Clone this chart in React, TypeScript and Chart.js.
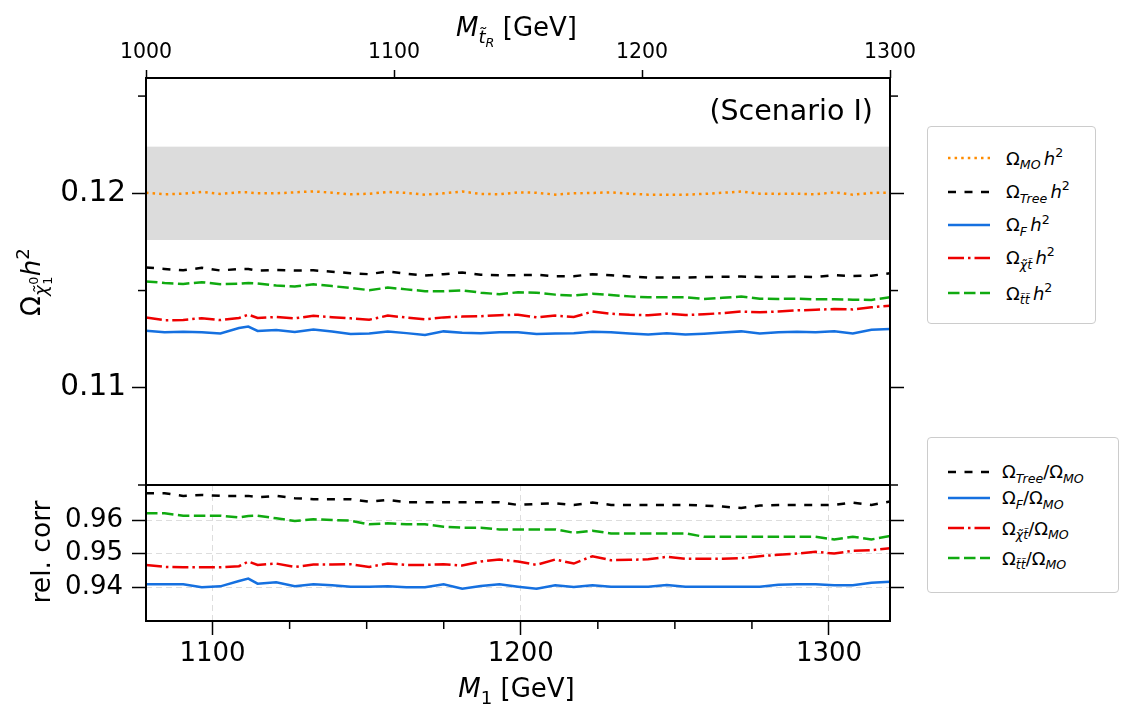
import React, { useEffect, useRef } from "react";
import { Chart, registerables } from "chart.js";

Chart.register(...registerables);

// Scan points in the right-handed stop mass M_tR [GeV]; the bottom axis shows the matching M1.
const stopMass = [1000, 1007.5, 1015, 1022.5, 1030, 1037.5, 1041.25, 1045, 1052.5, 1060, 1067.5, 1075, 1082.5, 1090, 1097.5, 1105, 1112.5, 1120, 1127.5, 1135, 1142.5, 1150, 1157.5, 1165, 1172.5, 1180, 1187.5, 1195, 1202.5, 1210, 1217.5, 1225, 1232.5, 1240, 1247.5, 1255, 1262.5, 1270, 1277.5, 1285, 1292.5, 1300];

// Relic density Omega h^2
const omegaMO = [0.12003, 0.11995, 0.11998, 0.12007, 0.11997, 0.12005, 0.12005, 0.12, 0.12, 0.12005, 0.1201, 0.12003, 0.11995, 0.11998, 0.12007, 0.12002, 0.11993, 0.12, 0.12009, 0.11997, 0.11995, 0.12005, 0.12003, 0.11993, 0.12, 0.12002, 0.12005, 0.11998, 0.11993, 0.11993, 0.11993, 0.11997, 0.12003, 0.12009, 0.11998, 0.11997, 0.11998, 0.11995, 0.12005, 0.11993, 0.12002, 0.12003];
const omegaTree = [0.11619, 0.11611, 0.11604, 0.11617, 0.11603, 0.11611, 0.11611, 0.11602, 0.11606, 0.11603, 0.11604, 0.11597, 0.11589, 0.11584, 0.11599, 0.11586, 0.11577, 0.11584, 0.11593, 0.11581, 0.11579, 0.11579, 0.11581, 0.11573, 0.11574, 0.11584, 0.11579, 0.11572, 0.11567, 0.11567, 0.11567, 0.11569, 0.11571, 0.11572, 0.1157, 0.11571, 0.11572, 0.11569, 0.11579, 0.11575, 0.11576, 0.11589];
const omegaF = [0.11293, 0.11285, 0.11288, 0.11286, 0.11279, 0.11307, 0.11315, 0.11292, 0.11297, 0.11287, 0.113, 0.11289, 0.11276, 0.11279, 0.11289, 0.11281, 0.11272, 0.1129, 0.11283, 0.11281, 0.11285, 0.11286, 0.11277, 0.11279, 0.1128, 0.11288, 0.11286, 0.11279, 0.11274, 0.1128, 0.11274, 0.11278, 0.11284, 0.1129, 0.11279, 0.11285, 0.11288, 0.11285, 0.11291, 0.11279, 0.11298, 0.11302];
const omegaChiT = [0.11362, 0.11347, 0.11349, 0.11358, 0.11348, 0.11359, 0.11376, 0.11359, 0.11364, 0.11357, 0.1137, 0.11363, 0.11357, 0.1135, 0.11371, 0.11361, 0.11352, 0.11362, 0.11366, 0.11368, 0.11373, 0.11376, 0.11362, 0.11371, 0.11364, 0.11392, 0.11381, 0.11375, 0.11373, 0.11381, 0.11374, 0.11378, 0.11384, 0.11392, 0.11388, 0.11392, 0.11398, 0.11401, 0.11405, 0.11403, 0.11414, 0.11422];
const omegaTT = [0.11547, 0.11539, 0.11534, 0.11543, 0.11533, 0.11535, 0.11539, 0.11536, 0.11526, 0.11521, 0.11532, 0.11523, 0.11513, 0.11502, 0.11515, 0.11506, 0.11497, 0.11496, 0.11501, 0.11489, 0.11481, 0.11491, 0.11489, 0.11479, 0.11474, 0.11484, 0.11477, 0.1147, 0.11465, 0.11465, 0.11465, 0.11457, 0.11463, 0.11469, 0.11458, 0.11457, 0.11458, 0.11455, 0.11455, 0.11453, 0.11452, 0.11465];

// Ratios to the micrOMEGAs result
const ratioTree = [0.968, 0.968, 0.9672, 0.9675, 0.9672, 0.9672, 0.9672, 0.9668, 0.9672, 0.9665, 0.9662, 0.9662, 0.9662, 0.9655, 0.966, 0.9653, 0.9653, 0.9653, 0.9653, 0.9653, 0.9653, 0.9645, 0.9648, 0.965, 0.9645, 0.9652, 0.9645, 0.9645, 0.9645, 0.9645, 0.9645, 0.9643, 0.964, 0.9636, 0.9643, 0.9645, 0.9645, 0.9645, 0.9645, 0.9652, 0.9645, 0.9655];
const ratioF = [0.9408, 0.9408, 0.9408, 0.9399, 0.9402, 0.9418, 0.9425, 0.941, 0.9414, 0.9402, 0.9408, 0.9405, 0.9401, 0.9401, 0.9402, 0.9399, 0.9399, 0.9408, 0.9395, 0.9403, 0.9408, 0.9401, 0.9395, 0.9405, 0.94, 0.9405, 0.9401, 0.9401, 0.9401, 0.9406, 0.9401, 0.9401, 0.9401, 0.9401, 0.9401, 0.9407, 0.9408, 0.9408, 0.9405, 0.9405, 0.9413, 0.9416];
const ratioChiT = [0.9466, 0.946, 0.9459, 0.9459, 0.9459, 0.9462, 0.9476, 0.9466, 0.947, 0.946, 0.9467, 0.9467, 0.9468, 0.946, 0.947, 0.9466, 0.9466, 0.9468, 0.9464, 0.9476, 0.9482, 0.9476, 0.9466, 0.9482, 0.947, 0.9492, 0.948, 0.9481, 0.9483, 0.949, 0.9484, 0.9484, 0.9484, 0.9486, 0.9492, 0.9496, 0.95, 0.9505, 0.95, 0.9508, 0.951, 0.9516];
const ratioTT = [0.962, 0.962, 0.9613, 0.9613, 0.9613, 0.9608, 0.9612, 0.9613, 0.9605, 0.9597, 0.9602, 0.96, 0.9598, 0.9587, 0.959, 0.9587, 0.9587, 0.958, 0.9577, 0.9577, 0.9572, 0.9572, 0.9572, 0.9572, 0.9562, 0.9568, 0.956, 0.956, 0.956, 0.956, 0.956, 0.955, 0.955, 0.955, 0.955, 0.955, 0.955, 0.955, 0.9542, 0.955, 0.9542, 0.9552];

// Axis ranges and tick positions
const stopRange = [1000, 1300];
const m1Range = [1078.4, 1319.8];
const stopTicks = [1000, 1100, 1200, 1300];
const m1Ticks = [1100, 1200, 1300];
const m1MinorTicks = [1125, 1150, 1175, 1225, 1250, 1275];
const omegaRange = [0.105, 0.12593];
const omegaTicks = [0.11, 0.12];
const omegaMinorTicks = [0.105, 0.115, 0.125];
const ratioRange = [0.92985, 0.97045];
const ratioTicks = [0.94, 0.95, 0.96];
const planckBand = [0.1176, 0.1224];

const FONT = "'DejaVu Sans', sans-serif";
const W = 1134;
const H = 720;

const STY = {
  mo: { color: "#ff8c00", dash: [2.5, 4.1] },
  tree: { color: "#000000", dash: [8, 8.5] },
  f: { color: "#1570e0", dash: [] as number[] },
  chiT: { color: "#ee0000", dash: [16, 4, 2.5, 4] },
  tt: { color: "#10aa10", dash: [11.5, 4.5] },
};

const series = (ys: number[]) => stopMass.map((x, i) => ({ x, y: ys[i] }));

const lineDs = (ys: number[], s: { color: string; dash: number[] }) => ({
  data: series(ys),
  borderColor: s.color,
  borderDash: s.dash,
  borderWidth: 2.5,
  pointRadius: 0,
  fill: false,
  tension: 0,
});

const setTicks = (values: number[]) => (scale: any) => {
  scale.ticks = values.map((value) => ({ value }));
};

type MinorSpec = { scaleId: string; values: number[]; side: "left" | "right" | "top" | "bottom"; len: number };

// Draws the shaded band, the minor tick marks and the panel frame
const panelDecor = (band: number[] | null, minor: MinorSpec[]) => ({
  id: "panelDecor",
  beforeDatasetsDraw(chart: any) {
    if (!band) return;
    const { ctx, chartArea: a, scales } = chart;
    const yTop = scales.y.getPixelForValue(band[1]);
    const yBot = scales.y.getPixelForValue(band[0]);
    ctx.save();
    ctx.fillStyle = "#dcdcdc";
    ctx.fillRect(a.left, yTop, a.right - a.left, yBot - yTop);
    ctx.restore();
  },
  afterDraw(chart: any) {
    const { ctx, chartArea: a, scales } = chart;
    ctx.save();
    ctx.strokeStyle = "#000";
    ctx.lineWidth = 1.5;
    for (const t of minor) {
      const s = scales[t.scaleId];
      for (const v of t.values) {
        const p = s.getPixelForValue(v);
        ctx.beginPath();
        if (t.side === "left") { ctx.moveTo(a.left - t.len, p); ctx.lineTo(a.left, p); }
        if (t.side === "right") { ctx.moveTo(a.right, p); ctx.lineTo(a.right + t.len, p); }
        if (t.side === "top") { ctx.moveTo(p, a.top - t.len); ctx.lineTo(p, a.top); }
        if (t.side === "bottom") { ctx.moveTo(p, a.bottom); ctx.lineTo(p, a.bottom + t.len); }
        ctx.stroke();
      }
    }
    ctx.lineWidth = 2;
    ctx.strokeRect(a.left, a.top, a.right - a.left, a.bottom - a.top);
    ctx.restore();
  },
});

const tickGrid = (len: number, onArea = false) => ({
  drawOnChartArea: onArea,
  drawTicks: true,
  tickLength: len,
  tickColor: "#000",
  tickWidth: 1.5,
  color: "#dddddd",
  lineWidth: 1,
});

const topConfig = (): any => ({
  type: "line",
  data: {
    datasets: [
      lineDs(omegaMO, STY.mo),
      lineDs(omegaTree, STY.tree),
      lineDs(omegaF, STY.f),
      lineDs(omegaChiT, STY.chiT),
      lineDs(omegaTT, STY.tt),
    ],
  },
  options: {
    animation: false,
    responsive: false,
    layout: { padding: { left: 0, right: 0, top: 0, bottom: H - 485 } },
    plugins: { legend: { display: false }, tooltip: { enabled: false } },
    scales: {
      x: {
        type: "linear",
        position: "top",
        min: stopRange[0],
        max: stopRange[1],
        afterBuildTicks: setTicks(stopTicks),
        afterFit: (s: any) => { s.height = 78; },
        ticks: { callback: (v: any) => String(v), font: { family: FONT, size: 20.5 }, color: "#000", padding: 5, maxRotation: 0, autoSkip: false },
        grid: tickGrid(8),
        border: { display: false },
      },
      y: {
        type: "linear",
        position: "left",
        min: omegaRange[0],
        max: omegaRange[1],
        afterBuildTicks: setTicks(omegaTicks),
        afterFit: (s: any) => { s.width = 146; },
        ticks: { callback: (v: any) => Number(v).toFixed(2), font: { family: FONT, size: 29.5 }, color: "#000", padding: 6 },
        grid: tickGrid(14),
        border: { display: false },
      },
      yR: {
        type: "linear",
        position: "right",
        min: omegaRange[0],
        max: omegaRange[1],
        afterBuildTicks: setTicks(omegaTicks),
        afterFit: (s: any) => { s.width = W - 890; },
        ticks: { display: false },
        grid: tickGrid(14),
        border: { display: false },
      },
    },
  },
  plugins: [
    panelDecor(planckBand, [
      { scaleId: "y", values: omegaMinorTicks, side: "left", len: 8 },
      { scaleId: "y", values: omegaMinorTicks, side: "right", len: 8 },
    ]),
  ],
});

const bottomConfig = (): any => ({
  type: "line",
  data: {
    datasets: [
      lineDs(ratioTree, STY.tree),
      lineDs(ratioF, STY.f),
      lineDs(ratioChiT, STY.chiT),
      lineDs(ratioTT, STY.tt),
    ],
  },
  options: {
    animation: false,
    responsive: false,
    layout: { padding: { left: 0, right: 0, top: 485, bottom: 0 } },
    plugins: { legend: { display: false }, tooltip: { enabled: false } },
    scales: {
      x: { type: "linear", min: stopRange[0], max: stopRange[1], display: false },
      m1: {
        type: "linear",
        position: "bottom",
        min: m1Range[0],
        max: m1Range[1],
        afterBuildTicks: setTicks(m1Ticks),
        afterFit: (s: any) => { s.height = H - 621; },
        ticks: { callback: (v: any) => String(v), font: { family: FONT, size: 26 }, color: "#000", padding: 4, maxRotation: 0, autoSkip: false },
        grid: tickGrid(14, true),
        border: { display: false, dash: [6, 4] },
      },
      y: {
        type: "linear",
        position: "left",
        min: ratioRange[0],
        max: ratioRange[1],
        afterBuildTicks: setTicks(ratioTicks),
        afterFit: (s: any) => { s.width = 146; },
        ticks: { callback: (v: any) => Number(v).toFixed(2), font: { family: FONT, size: 26 }, color: "#000", padding: 9 },
        grid: tickGrid(14, true),
        border: { display: false, dash: [6, 4] },
      },
      yR: {
        type: "linear",
        position: "right",
        min: ratioRange[0],
        max: ratioRange[1],
        afterBuildTicks: setTicks(ratioTicks),
        afterFit: (s: any) => { s.width = W - 890; },
        ticks: { display: false },
        grid: tickGrid(14),
        border: { display: false },
      },
    },
  },
  plugins: [panelDecor(null, [{ scaleId: "m1", values: m1MinorTicks, side: "bottom", len: 8 }])],
});

// Small helpers for math-style labels
const I = ({ children }: any) => <span style={{ fontStyle: "italic" }}>{children}</span>;
const Sub = ({ children }: any) => (
  <span style={{ fontSize: "0.7em", position: "relative", top: "0.38em" }}>{children}</span>
);
const Sup = ({ children }: any) => (
  <span style={{ fontSize: "0.7em", position: "relative", top: "-0.62em" }}>{children}</span>
);
const Gap = () => <span style={{ display: "inline-block", width: "0.18em" }} />;

const CHI = "\u03c7\u0303";
const TT = "t\u0303";

const topLegend = [
  { y: 158.3, s: STY.mo, label: <>Ω<Sub><I>MO</I></Sub><Gap /><I>h</I><Sup>2</Sup></> },
  { y: 191.7, s: STY.tree, label: <>Ω<Sub><I>Tree</I></Sub><Gap /><I>h</I><Sup>2</Sup></> },
  { y: 225, s: STY.f, label: <>Ω<Sub><I>F</I></Sub><Gap /><I>h</I><Sup>2</Sup></> },
  { y: 257.7, s: STY.chiT, label: <>Ω<Sub><I>{CHI}{TT}</I></Sub><Gap /><I>h</I><Sup>2</Sup></> },
  { y: 293.3, s: STY.tt, label: <>Ω<Sub><I>{TT}{TT}</I></Sub><Gap /><I>h</I><Sup>2</Sup></> },
];

const bottomLegend = [
  { y: 471.7, s: STY.tree, label: <>Ω<Sub><I>Tree</I></Sub>/Ω<Sub><I>MO</I></Sub></> },
  { y: 497.7, s: STY.f, label: <>Ω<Sub><I>F</I></Sub>/Ω<Sub><I>MO</I></Sub></> },
  { y: 528.3, s: STY.chiT, label: <>Ω<Sub><I>{CHI}{TT}</I></Sub>/Ω<Sub><I>MO</I></Sub></> },
  { y: 558.3, s: STY.tt, label: <>Ω<Sub><I>{TT}{TT}</I></Sub>/Ω<Sub><I>MO</I></Sub></> },
];

const LegendRow = ({ y, s, label, textX }: any) => (
  <>
    <svg style={{ position: "absolute", left: 948, top: y - 5 }} width={42} height={10}>
      <line x1={0} y1={5} x2={42} y2={5} stroke={s.color} strokeWidth={2.5} strokeDasharray={s.dash.length ? s.dash.join(" ") : undefined} />
    </svg>
    <div style={{ position: "absolute", left: textX, top: y - 8.6, fontSize: 18, lineHeight: 1, whiteSpace: "nowrap" }}>{label}</div>
  </>
);

const boxStyle = (left: number, top: number, width: number, height: number): React.CSSProperties => ({
  position: "absolute",
  left,
  top,
  width,
  height,
  border: "1px solid #cccccc",
  borderRadius: 4,
  boxSizing: "border-box",
  background: "#fff",
});

export default function App() {
  const topRef = useRef<HTMLCanvasElement>(null);
  const botRef = useRef<HTMLCanvasElement>(null);

  useEffect(() => {
    const top = new Chart(topRef.current as HTMLCanvasElement, topConfig());
    const bot = new Chart(botRef.current as HTMLCanvasElement, bottomConfig());
    return () => {
      top.destroy();
      bot.destroy();
    };
  }, []);

  const canvasStyle: React.CSSProperties = { position: "absolute", left: 0, top: 0, width: W, height: H, display: "block" };

  return (
    <div style={{ position: "absolute", left: 0, top: 0, width: W, height: H, background: "#fff", fontFamily: FONT, color: "#000", overflow: "hidden" }}>
      <canvas ref={topRef} width={W} height={H} style={canvasStyle} />
      <canvas ref={botRef} width={W} height={H} style={canvasStyle} />

      {/* top axis title */}
      <div style={{ position: "absolute", left: 516.5, top: 14, transform: "translateX(-50%)", fontSize: 26, lineHeight: 1, whiteSpace: "nowrap" }}>
        <I>M</I>
        <Sub>
          <I>{TT}</I>
          <span style={{ fontSize: "0.7em", position: "relative", top: "0.3em" }}><I>R</I></span>
        </Sub>{" "}
        [GeV]
      </div>

      {/* bottom axis title */}
      <div style={{ position: "absolute", left: 516.5, top: 674.6, transform: "translateX(-50%)", fontSize: 26, lineHeight: 1, whiteSpace: "nowrap" }}>
        <I>M</I>
        <Sub>1</Sub> [GeV]
      </div>

      {/* left axis titles */}
      <div style={{ position: "absolute", left: 31, top: 282, transform: "translate(-50%, -50%) rotate(-90deg)", fontSize: 26, lineHeight: 1, whiteSpace: "nowrap" }}>
        Ω
        <Sub>
          <I>{CHI}</I>
          <span style={{ position: "relative", display: "inline-block", width: "0.5em" }}>
            <span style={{ position: "absolute", left: "0.05em", bottom: "0.45em", fontSize: "0.7em", lineHeight: 1 }}>0</span>
            <span style={{ position: "absolute", left: "0.05em", top: "-0.35em", fontSize: "0.7em", lineHeight: 1 }}>1</span>
          </span>
        </Sub>
        <I>h</I>
        <Sup>2</Sup>
      </div>
      <div style={{ position: "absolute", left: 40.8, top: 552, transform: "translate(-50%, -50%) rotate(-90deg)", fontSize: 26.5, lineHeight: 1, whiteSpace: "nowrap" }}>
        rel. corr
      </div>

      {/* scenario tag */}
      <div style={{ position: "absolute", right: W - 873, top: 96.7, fontSize: 28.5, lineHeight: 1, whiteSpace: "nowrap" }}>(Scenario I)</div>

      {/* legends */}
      <div style={boxStyle(927, 126, 169, 198)} />
      {topLegend.map((r, i) => (
        <LegendRow key={"t" + i} y={r.y} s={r.s} label={r.label} textX={1006} />
      ))}
      <div style={boxStyle(927, 437, 192, 156)} />
      {bottomLegend.map((r, i) => (
        <LegendRow key={"b" + i} y={r.y} s={r.s} label={r.label} textX={1002} />
      ))}
    </div>
  );
}
